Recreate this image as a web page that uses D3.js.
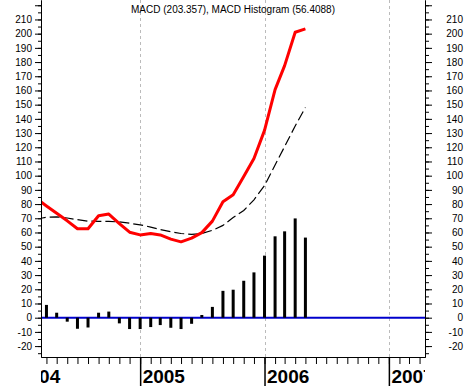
<!DOCTYPE html>
<html>
<head>
<meta charset="utf-8">
<script src="https://cdn.jsdelivr.net/npm/d3@7"></script>
<style>
  html, body { margin: 0; padding: 0; background: #fff; }
  svg { display: block; }
  text { font-family: "Liberation Sans", Arial, sans-serif; }
</style>
</head>
<body>
<svg id="chart" width="466" height="386"></svg>
<script>
// ---- data ----
const titleText = "MACD (203.357), MACD Histogram (56.4088)";
const lineMonths = ["2004-03","2004-04","2004-05","2004-06","2004-07","2004-08","2004-09","2004-10","2004-11","2004-12",
  "2005-01","2005-02","2005-03","2005-04","2005-05","2005-06","2005-07","2005-08","2005-09","2005-10","2005-11","2005-12",
  "2006-01","2006-02","2006-03","2006-04","2006-05"];
const macd = [84.1, 78.7, 73.5, 68.2, 62.6, 62.6, 71.8, 73.0, 66.3, 60.2,
  58.3, 59.3, 58.3, 55.3, 53.4, 56.0, 59.9, 68.0, 81.7, 86.6, 99.4, 112.1,
  131.9, 160.6, 177.5, 201.0, 203.357];
const signal = [69.3, 70.8, 71.0, 70.2, 69.0, 68.0, 67.8, 67.8, 67.4, 66.5,
  65.4, 63.8, 62.0, 60.5, 59.3, 58.7, 59.3, 61.5, 65.0, 70.5, 75.5, 83.0,
  93.0, 107.5, 120.5, 135.0, 148.0];
const histMonths = lineMonths.slice(1);
const hist = [9.0, 3.5, -2.8, -7.8, -6.9, 3.5, 4.3, -4.0, -8.0,
  -8.0, -6.6, -5.2, -7.1, -8.0, -4.3, 1.9, 7.6, 18.9, 19.7, 26.0, 31.9,
  43.7, 57.3, 60.8, 69.9, 56.4088];
const yearTicks = ["2004","2005","2006","2007"];
const yMajorTicks = d3.range(-20, 221, 10);
const yMinorTicks = d3.range(-25, 224, 5);
const yLabelTicks = d3.range(-20, 211, 10);

// ---- layout ----
const L = 41, R = 425, T = 0, B = 357;
const svg = d3.select("#chart");
const parse = d3.timeParse("%Y-%m");

const x = d3.scaleTime()
  .domain([new Date(2004, 2, 16), new Date(2007, 3, 17)])
  .range([L, R]);
const y = d3.scaleLinear().domain([-27.68, 223.7]).range([B, T]);

svg.append("defs").append("clipPath").attr("id", "plotclip")
  .append("rect").attr("x", L).attr("y", T).attr("width", R - L).attr("height", B - T);
svg.append("defs").append("clipPath").attr("id", "xclip")
  .append("rect").attr("x", L).attr("y", 0).attr("width", R - L).attr("height", 40);

const plot = svg.append("g").attr("clip-path", "url(#plotclip)");

// year gridlines
plot.selectAll("line.grid").data(yearTicks).join("line")
  .attr("class", "grid")
  .attr("x1", d => Math.round(x(new Date(+d, 0, 1))) + 0.5)
  .attr("x2", d => Math.round(x(new Date(+d, 0, 1))) + 0.5)
  .attr("y1", T).attr("y2", B)
  .attr("stroke", "#bbbbbb").attr("stroke-width", 1)
  .attr("stroke-dasharray", "3,3");

// zero line
plot.append("line")
  .attr("x1", L).attr("x2", R)
  .attr("y1", y(0)).attr("y2", y(0))
  .attr("stroke", "#0000cc").attr("stroke-width", 2);

// histogram bars
plot.selectAll("rect.bar").data(hist.map((v, i) => ({ d: parse(histMonths[i]), v })))
  .join("rect")
  .attr("class", "bar")
  .attr("x", d => x(d.d) - 1.5)
  .attr("width", 3)
  .attr("y", d => Math.min(y(d.v), y(0)))
  .attr("height", d => Math.abs(y(d.v) - y(0)))
  .attr("fill", "#000");

const lineGen = d3.line().x(d => x(d.d)).y(d => y(d.v));

// signal line
plot.append("path")
  .datum(signal.map((v, i) => ({ d: parse(lineMonths[i]), v })))
  .attr("d", lineGen)
  .attr("fill", "none").attr("stroke", "#000")
  .attr("stroke-width", 1.2).attr("stroke-dasharray", "10,4");

// MACD line
plot.append("path")
  .datum(macd.map((v, i) => ({ d: parse(lineMonths[i]), v })))
  .attr("d", lineGen)
  .attr("fill", "none").attr("stroke", "#ff0000")
  .attr("stroke-width", 3).attr("stroke-linejoin", "round");

// ---- axes ----
function styleAxis(g) {
  g.selectAll("path.domain").attr("stroke", "#000").attr("stroke-width", 1);
  g.selectAll(".tick line").attr("stroke", "#000").attr("stroke-width", 1);
  g.selectAll("text").attr("fill", "#000").attr("font-size", "10px")
    .attr("font-family", "'Liberation Sans', Arial, sans-serif");
}

// left axis
const gLminor = svg.append("g").attr("transform", `translate(${L},0)`)
  .call(d3.axisLeft(y).tickValues(yMinorTicks).tickSize(3).tickSizeOuter(0).tickFormat(""));
styleAxis(gLminor);
const gL = svg.append("g").attr("transform", `translate(${L},0)`)
  .call(d3.axisLeft(y).tickValues(yMajorTicks).tickSize(6).tickSizeOuter(0).tickPadding(3)
    .tickFormat(d => yLabelTicks.includes(d) ? d : ""));
styleAxis(gL);

// right axis
const gRminor = svg.append("g").attr("transform", `translate(${R},0)`)
  .call(d3.axisRight(y).tickValues(yMinorTicks).tickSize(4).tickSizeOuter(0).tickFormat(""));
styleAxis(gRminor);
const gR = svg.append("g").attr("transform", `translate(${R},0)`)
  .call(d3.axisRight(y).tickValues(yMajorTicks).tickSize(7).tickSizeOuter(0)
    .tickFormat(d => yLabelTicks.includes(d) ? d : ""));
styleAxis(gR);
gR.selectAll("text").attr("text-anchor", "end").attr("x", 38);

// bottom axis: month ticks
const gB = svg.append("g").attr("transform", `translate(0,${B})`)
  .call(d3.axisBottom(x).ticks(d3.timeMonth.every(1)).tickSize(7).tickSizeOuter(0).tickFormat(""));
styleAxis(gB);

// year ticks & labels
const gY = svg.append("g").attr("transform", `translate(0,${B})`).attr("clip-path", "url(#xclip)");
gY.call(d3.axisBottom(x).tickValues(yearTicks.map(d => new Date(+d, 0, 1)))
  .tickSize(29).tickSizeOuter(0).tickFormat(d3.timeFormat("%Y")));
gY.select("path.domain").remove();
gY.selectAll(".tick line").attr("stroke", "#000").attr("stroke-width", 1.5);
gY.selectAll(".tick text")
  .attr("text-anchor", "start").attr("x", 2).attr("y", 25.5).attr("dy", 0)
  .attr("fill", "#000").attr("font-size", "19px").attr("font-weight", "bold")
  .attr("font-family", "'Liberation Sans', Arial, sans-serif");

// title
svg.append("text")
  .attr("x", (L + R) / 2).attr("y", 13)
  .attr("text-anchor", "middle")
  .attr("font-size", "10px").attr("fill", "#000")
  .text(titleText);
</script>
</body>
</html>
